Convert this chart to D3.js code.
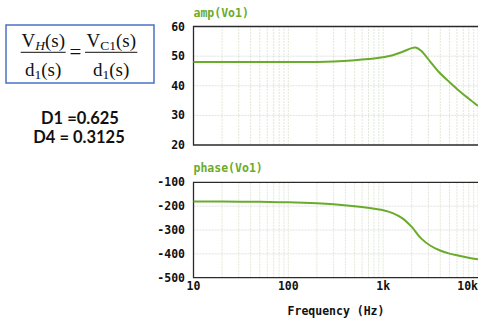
<!DOCTYPE html>
<html>
<head>
<meta charset="utf-8">
<script src="https://cdn.jsdelivr.net/npm/d3@7"></script>
<style>
  body { margin: 0; background: #fff; }
  svg { display: block; }
</style>
</head>
<body>
<svg></svg>
<script>
(() => {
    const width = 478;
    const height = 320;

    // amplitude (dB)
    const ampFreq = [10, 20, 50, 100, 200, 300, 500, 700, 1000, 1260, 1585, 2000, 2200, 2510, 3160, 3980, 5010, 6310, 7940, 10000];
    const ampDb = [48, 48, 48, 48, 48.05, 48.2, 48.6, 49.0, 49.6, 50.3, 51.4, 52.7, 52.9, 51.8, 48.0, 44.2, 41.2, 38.3, 35.7, 33.2];

    // phase (deg)
    const phaseFreq = [10, 20, 50, 100, 200, 300, 500, 720, 1000, 1260, 1585, 2000, 2510, 3160, 3980, 5010, 6310, 7940, 10000];
    const phaseDeg = [-181, -181, -182, -184, -188, -192, -200, -208, -217, -229, -250, -287, -335, -366, -386, -399, -408, -416, -423];

    const ampTicks = [60, 50, 40, 30, 20];
    const phaseTicks = [-100, -200, -300, -400, -500];
    const freqTicks = [10, 100, 1000, 10000];
    const freqLabels = ["10", "100", "1k", "10k"];

    const green = "#6aab2c";
    const mono = "'DejaVu Sans Mono', monospace";

    const svg = d3.select("svg")
        .attr("width", width)
        .attr("height", height);

    const x = d3.scaleLog()
        .domain([10, 10000])
        .range([193.5, 478]);

    const yAmp = d3.scaleLinear().domain([20, 60]).range([145, 26.5]);
    const yPhase = d3.scaleLinear().domain([-500, -100]).range([277.7, 182.3]);

    // minor frequency grid values
    const minor = [];
    for (let dec = 10; dec < 10000; dec *= 10) {
        for (let k = 1; k < 10; k++) minor.push(dec * k);
    }
    minor.push(10000);

    function panel(y, ticks, title, xs, ys, showX) {
        const g = svg.append("g");
        const [y0, y1] = y.range();

        g.selectAll(".vgrid")
            .data(minor.slice(1))
            .enter()
            .append("line")
            .attr("x1", d => x(d)).attr("x2", d => x(d))
            .attr("y1", y0).attr("y2", y1)
            .attr("stroke", "#e2e8d6")
            .attr("stroke-dasharray", "2,1");

        g.selectAll(".hgrid")
            .data(ticks.slice(1, -1))
            .enter()
            .append("line")
            .attr("x1", x.range()[0]).attr("x2", x.range()[1])
            .attr("y1", d => y(d)).attr("y2", d => y(d))
            .attr("stroke", "#e0e0e0")
            .attr("stroke-dasharray", "2,1");

        // frame
        g.append("path")
            .attr("d", `M${x.range()[1] + 2},${y1}H${x.range()[0]}V${y0}H${x.range()[1] + 2}`)
            .attr("fill", "none")
            .attr("stroke", "#2a2a2a")
            .attr("stroke-width", 1.3);

        g.selectAll(".ylab")
            .data(ticks)
            .enter()
            .append("text")
            .attr("x", 185)
            .attr("y", d => y(d))
            .attr("dy", "0.35em")
            .attr("text-anchor", "end")
            .attr("font-family", mono)
            .attr("font-weight", "bold")
            .attr("font-size", 11.5)
            .attr("fill", "#111")
            .text(d => d);

        g.append("text")
            .attr("x", x.range()[0])
            .attr("y", y1 - 10)
            .attr("font-family", mono)
            .attr("font-weight", "bold")
            .attr("font-size", 11.5)
            .attr("fill", green)
            .text(title);

        const line = d3.line()
            .x((d, i) => x(xs[i]))
            .y(d => y(d))
            .curve(d3.curveCatmullRom.alpha(0.5));

        g.append("path")
            .datum(ys)
            .attr("d", line)
            .attr("fill", "none")
            .attr("stroke", green)
            .attr("stroke-width", 2);

        if (showX) {
            g.selectAll(".xlab")
                .data(freqTicks)
                .enter()
                .append("text")
                .attr("x", d => x(d))
                .attr("y", y0 + 12)
                .attr("text-anchor", (d, i) => i === freqTicks.length - 1 ? "end" : "middle")
                .attr("font-family", mono)
                .attr("font-weight", "bold")
                .attr("font-size", 11.5)
                .attr("fill", "#111")
                .text((d, i) => freqLabels[i]);

            g.append("text")
                .attr("x", 336)
                .attr("y", 315)
                .attr("text-anchor", "middle")
                .attr("font-family", mono)
                .attr("font-weight", "bold")
                .attr("font-size", 11.5)
                .attr("fill", "#111")
                .text("Frequency (Hz)");
        }
    }

    panel(yAmp, ampTicks, "amp(Vo1)", ampFreq, ampDb, false);
    panel(yPhase, phaseTicks, "phase(Vo1)", phaseFreq, phaseDeg, true);

    // equation box
    svg.append("rect")
        .attr("x", 6).attr("y", 25)
        .attr("width", 148).attr("height", 58)
        .attr("fill", "none")
        .attr("stroke", "#4a72c0")
        .attr("stroke-width", 1.5);

    const serif = "'Liberation Serif', 'DejaVu Serif', serif";
    const eq = svg.append("g")
        .attr("font-family", serif)
        .attr("font-size", 19)
        .attr("fill", "#111");

    function frac(cx, sub, subItalic, x1, x2) {
        const num = eq.append("text")
            .attr("x", cx).attr("y", 47)
            .attr("text-anchor", "middle");
        num.append("tspan").text("V");
        num.append("tspan").attr("font-size", 13.5).attr("dy", 3)
            .attr("font-style", subItalic ? "italic" : null).text(sub);
        num.append("tspan").attr("dy", -3).text("(s)");

        const den = eq.append("text")
            .attr("x", cx).attr("y", 75.5)
            .attr("text-anchor", "middle");
        den.append("tspan").text("d");
        den.append("tspan").attr("font-size", 13.5).attr("dy", 3).text("1");
        den.append("tspan").attr("dy", -3).text("(s)");

        eq.append("line")
            .attr("x1", x1).attr("x2", x2)
            .attr("y1", 52.3).attr("y2", 52.3)
            .attr("stroke", "#111")
            .attr("stroke-width", 1);
    }

    frac(43.2, "H", true, 20.7, 65.7);
    eq.append("text")
        .attr("x", 75.3).attr("y", 58.5)
        .attr("text-anchor", "middle")
        .attr("font-size", 21)
        .text("=");
    frac(111.2, "C1", false, 85, 137.3);

    const info = svg.append("g")
        .attr("font-family", "Lato, 'Noto Sans', sans-serif")
        .attr("font-weight", "bold")
        .attr("font-size", 16.5)
        .attr("fill", "#111")
        .attr("text-anchor", "middle");
    info.append("text").attr("x", 80).attr("y", 123.5).text("D1 =0.625");
    info.append("text").attr("x", 79).attr("y", 142.8).text("D4 = 0.3125");
})();
</script>
</body>
</html>
